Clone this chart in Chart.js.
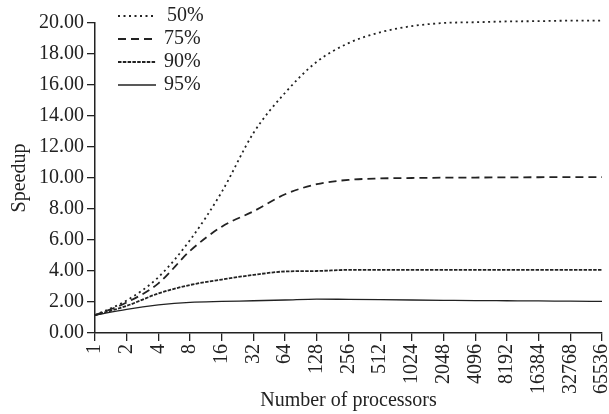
<!DOCTYPE html>
<html lang="en">
<head>
  <meta charset="UTF-8">
  <title>Speedup vs processors</title>
  <script src="https://cdn.jsdelivr.net/npm/chart.js"></script>
  <style>
    html, body { margin: 0; padding: 0; background: #fff; }
    #wrap { width: 609px; height: 414px; }
  </style>
</head>
<body>
  <div id="wrap"><canvas id="speedChart" width="609" height="414"></canvas></div>
  <script>
    // processor counts on the x axis
    const processors = ['1', '2', '4', '8', '16', '32', '64', '128', '256', '512', '1024', '2048', '4096', '8192', '16384', '32768', '65536'];

    // speedup
    const speedup50 = [1.15, 2.1, 3.6, 6.0, 9.1, 12.9, 15.5, 17.5, 18.7, 19.4, 19.8, 20.0, 20.05, 20.1, 20.12, 20.15, 20.15];
    const speedup75 = [1.15, 1.97, 3.2, 5.3, 6.86, 7.85, 8.95, 9.6, 9.88, 9.97, 10.0, 10.02, 10.03, 10.04, 10.05, 10.06, 10.06];
    const speedup90 = [1.15, 1.75, 2.55, 3.1, 3.45, 3.75, 3.97, 4.0, 4.07, 4.07, 4.07, 4.07, 4.07, 4.07, 4.07, 4.07, 4.07];
    const speedup95 = [1.15, 1.53, 1.81, 1.98, 2.04, 2.08, 2.13, 2.19, 2.17, 2.15, 2.13, 2.11, 2.09, 2.08, 2.07, 2.05, 2.04];

    const yTicks = [0, 2, 4, 6, 8, 10, 12, 14, 16, 18, 20];
    const seriesNames = ['50%', '75%', '90%', '95%'];

    const ink = '#222';
    const serif = 'Liberation Serif';

    // legend drawn inside the plot, top left
    const insideLegend = {
      id: 'insideLegend',
      afterDraw(chart) {
        const ctx = chart.ctx;
        const area = chart.chartArea;
        ctx.save();
        ctx.font = '20px "' + serif + '"';
        ctx.textBaseline = 'middle';
        ctx.fillStyle = ink;
        chart.data.datasets.forEach((ds, i) => {
          const y = area.top - 7 + i * 23;
          ctx.strokeStyle = ds.borderColor;
          ctx.lineWidth = ds.borderWidth;
          ctx.setLineDash(ds.borderDash || []);
          ctx.beginPath();
          ctx.moveTo(area.left + 23, y);
          ctx.lineTo(area.left + 61, y);
          ctx.stroke();
          ctx.fillText(ds.label, area.left + (i === 0 ? 72 : 69), y);
        });
        ctx.restore();
      }
    };

    new Chart(document.getElementById('speedChart'), {
      type: 'line',
      data: {
        labels: processors,
        datasets: [
          { label: seriesNames[0], data: speedup50, borderColor: ink, borderWidth: 1.8, borderDash: [2, 3.5] },
          { label: seriesNames[1], data: speedup75, borderColor: ink, borderWidth: 1.8, borderDash: [8, 5] },
          { label: seriesNames[2], data: speedup90, borderColor: ink, borderWidth: 1.8, borderDash: [3.5, 1.3] },
          { label: seriesNames[3], data: speedup95, borderColor: ink, borderWidth: 1.3 }
        ].map(d => Object.assign(d, { pointRadius: 0, fill: false, cubicInterpolationMode: 'monotone', clip: false }))
      },
      options: {
        responsive: false,
        animation: false,
        layout: { padding: { top: 23, right: 0, left: 8, bottom: 1 } },
        plugins: { legend: { display: false }, tooltip: { enabled: false } },
        scales: {
          x: {
            offset: false,
            afterFit: scale => { scale.height = 80; scale.paddingRight = 7; scale.paddingLeft = 0; },
            grid: { drawOnChartArea: false, drawTicks: true, tickLength: 8, color: ink, lineWidth: 1.3 },
            border: { color: ink, width: 1.5 },
            ticks: { color: ink, font: { family: serif, size: 20 }, minRotation: 90, maxRotation: 90, padding: 3, autoSkip: false },
            title: { display: true, text: 'Number of processors', color: ink, font: { family: serif, size: 20 }, padding: { top: 0, bottom: 0 } }
          },
          y: {
            min: 0,
            max: 20,
            afterBuildTicks: scale => { scale.ticks = yTicks.map(v => ({ value: v })); },
            grid: { drawOnChartArea: false, drawTicks: true, tickLength: 8, color: ink, lineWidth: 1.3 },
            border: { color: ink, width: 1.5 },
            ticks: { color: ink, font: { family: serif, size: 20 }, padding: 3, callback: v => v.toFixed(2) },
            title: { display: true, text: 'Speedup', color: ink, font: { family: serif, size: 20 }, padding: { top: 0, bottom: 4 } }
          }
        }
      },
      plugins: [insideLegend]
    });
  </script>
</body>
</html>
